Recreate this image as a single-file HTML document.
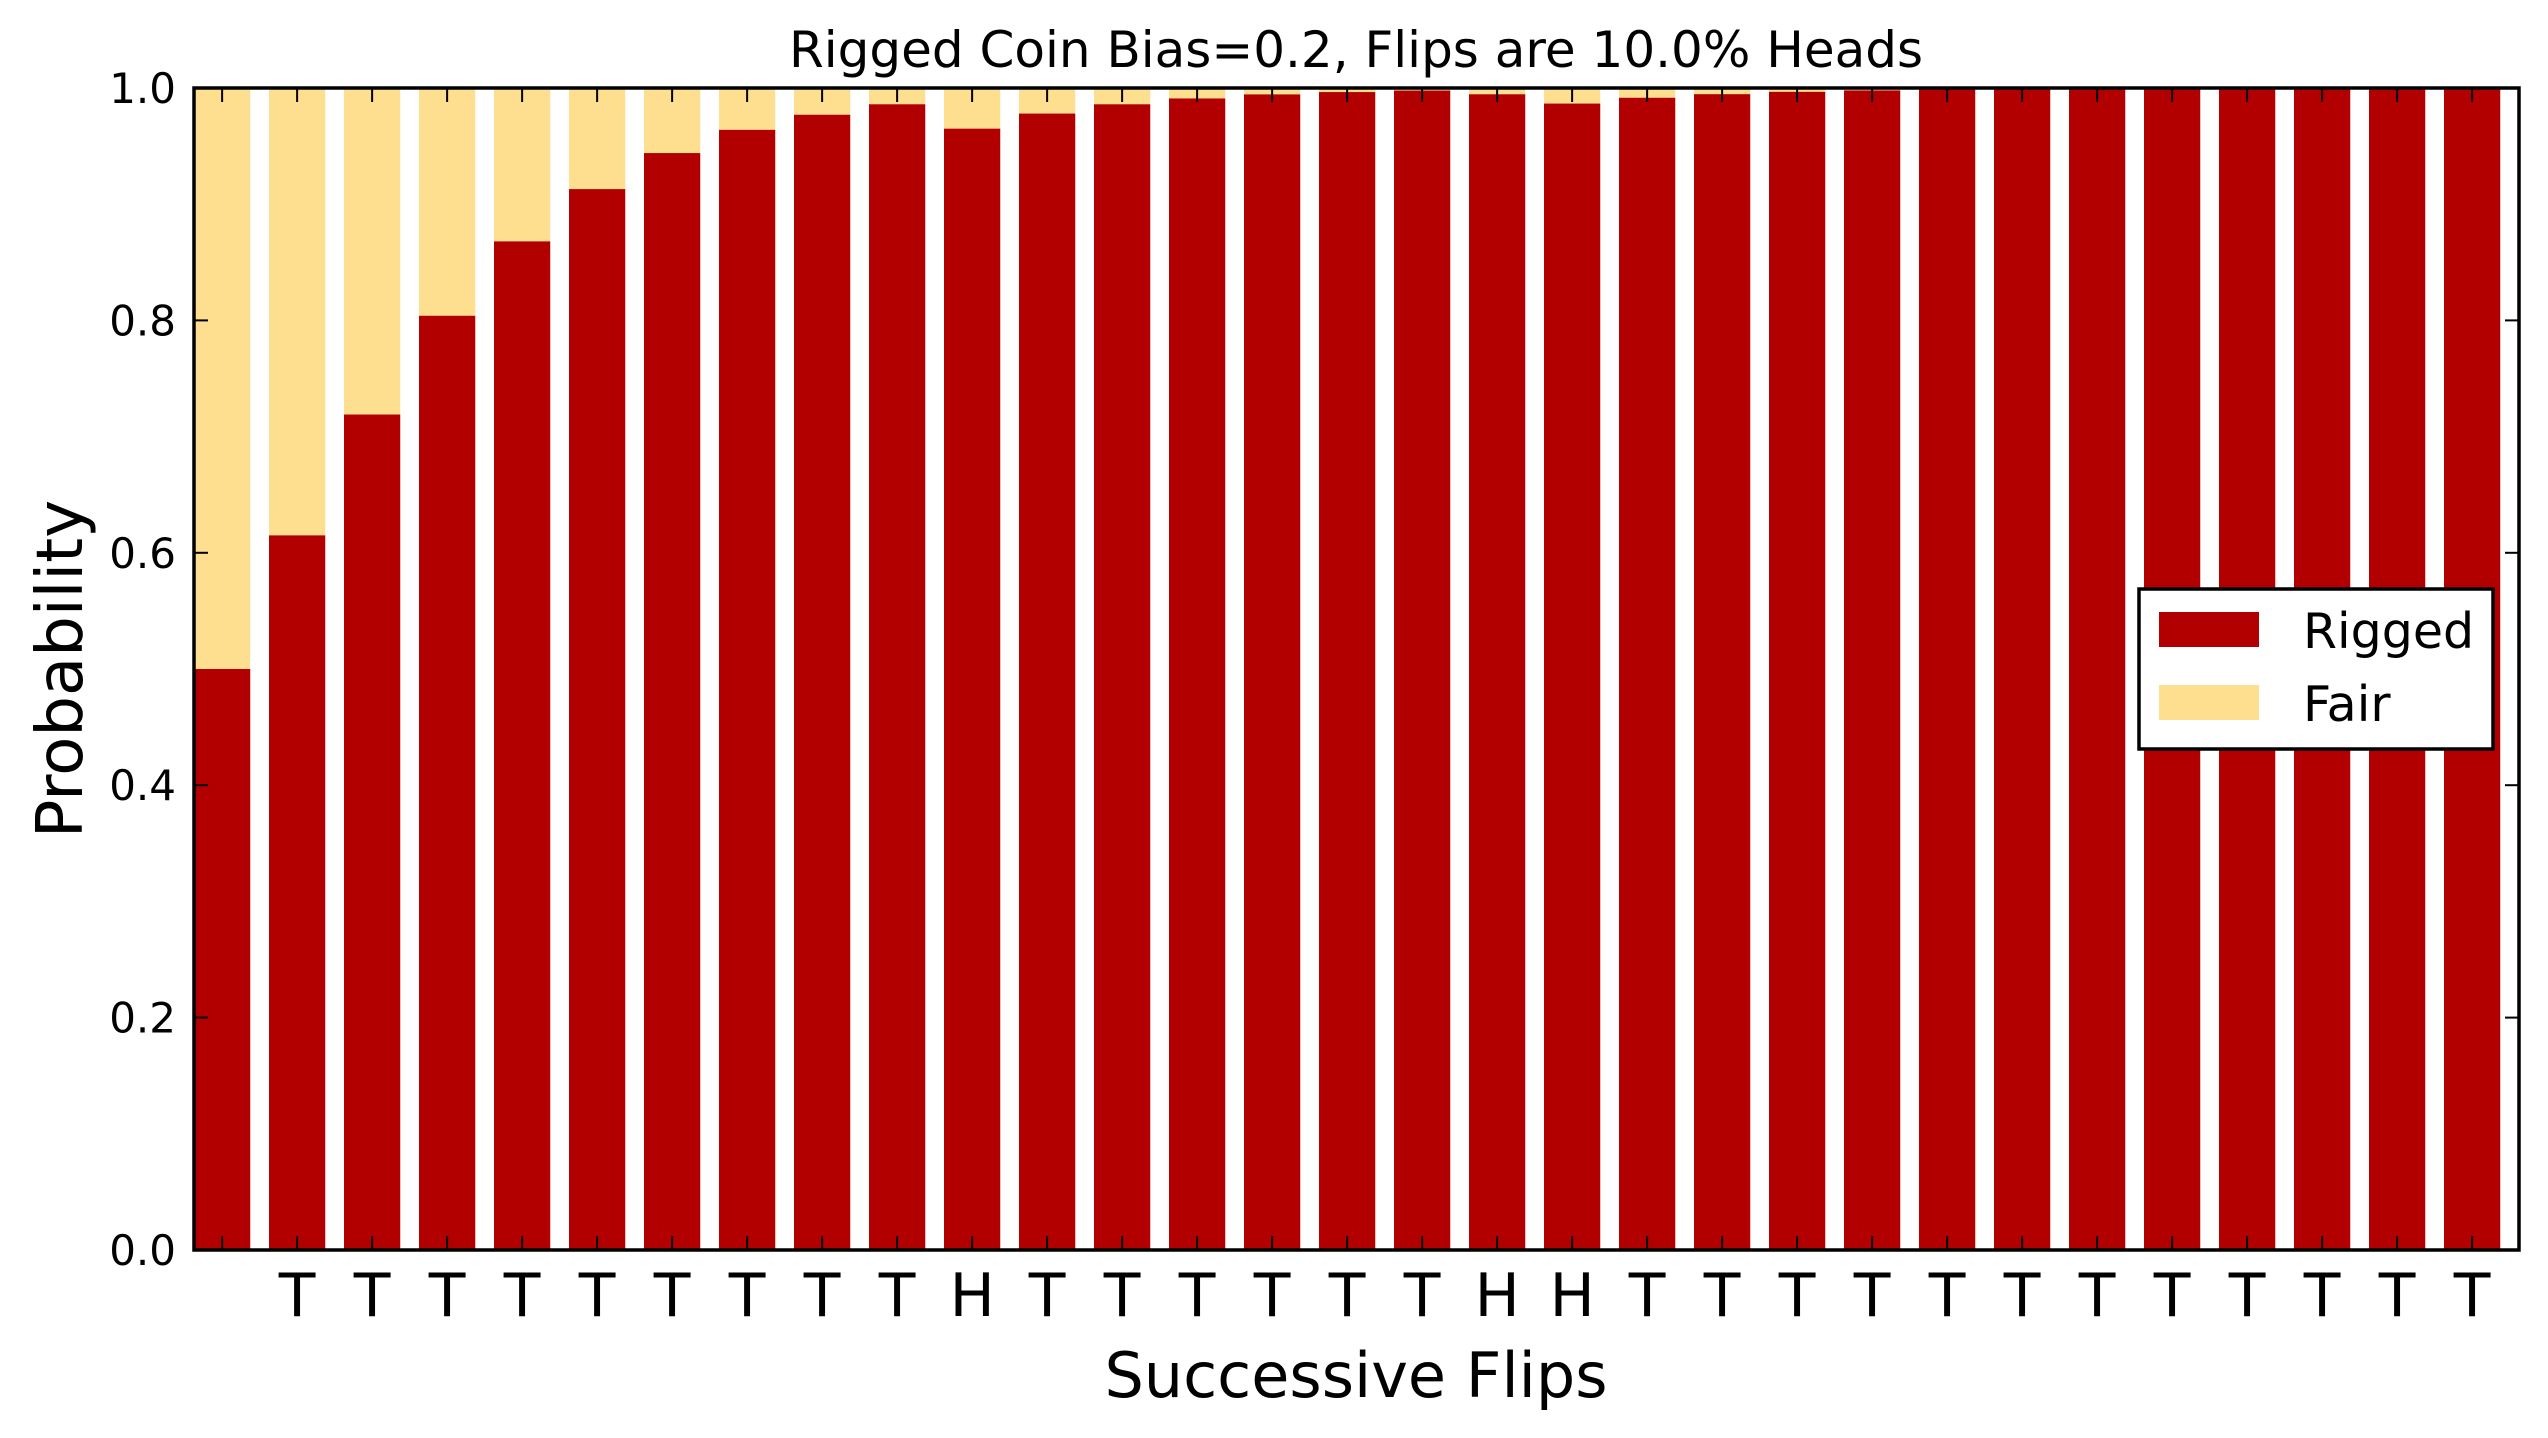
<!DOCTYPE html>
<html><head><meta charset="utf-8">
<style>
html,body{margin:0;padding:0;background:#fff;}
svg{display:block;font-family:"DejaVu Sans","Liberation Sans",sans-serif;}
</style></head>
<body>
<svg id="chart" width="2548" height="1438" viewBox="0 0 2548 1438" xmlns="http://www.w3.org/2000/svg">
<rect x="0" y="0" width="2548" height="1438" fill="#fff"/>
<g id="bars"></g>
<g id="ticks"></g>
<rect x="194" y="88" width="2325" height="1162" fill="none" stroke="#000" stroke-width="3.5"/>
<text x="1356" y="67" font-size="50" text-anchor="middle">Rigged Coin Bias=0.2, Flips are 10.0% Heads</text>
<text x="1356" y="1397" font-size="62" text-anchor="middle">Successive Flips</text>
<text x="82" y="669" font-size="64" text-anchor="middle" transform="rotate(-90 82 669)">Probability</text>
<g>
<rect x="2139" y="589" width="354" height="160" fill="#fff" stroke="#000" stroke-width="3.5"/>
<rect x="2159" y="612" width="100" height="35" fill="#b20000"/>
<text x="2303" y="648" font-size="49">Rigged</text>
<rect x="2159" y="685" width="100" height="35" fill="#fddf8f"/>
<text x="2303" y="721" font-size="49">Fair</text>
</g>
</svg>
<script>
const flips = ["", "T","T","T","T","T","T","T","T","T","H","T","T","T","T","T","T","H","H","T","T","T","T","T","T","T","T","T","T","T","T"];
const rigged = [0.5,0.615,0.719,0.804,0.868,0.913,0.944,0.964,0.977,0.986,0.965,0.978,0.986,0.991,0.9945,0.9965,0.9978,0.9946,0.9866,0.9916,0.9947,0.9967,0.9979,0.9987,0.9992,0.9995,0.9997,0.9998,0.9999,0.99993,0.99996];
const yTicks = [0.0,0.2,0.4,0.6,0.8,1.0];
const yTickLabels = ["0.0","0.2","0.4","0.6","0.8","1.0"];

const NS = "http://www.w3.org/2000/svg";
const X0 = 194, X1 = 2519, Y0 = 1250, Y1 = 88;
const n = flips.length;
function xs(v){ return X0 + (X1 - X0) * v / n; }
function ys(v){ return Y0 - (Y0 - Y1) * v; }
const barsG = document.getElementById('bars');
const ticksG = document.getElementById('ticks');
function mk(tag, attrs, parent){
  const e = document.createElementNS(NS, tag);
  for (const k in attrs) e.setAttribute(k, attrs[k]);
  parent.appendChild(e);
  return e;
}
for (let i = 0; i < n; i++) {
  const r = rigged[i];
  const bx = xs(i), bw = xs(i + 0.75) - xs(i);
  const f = mk('rect', {x: bx, y: ys(1), width: bw, height: ys(r) - ys(1), fill: '#fddf8f'}, barsG);
  
  
  const b = mk('rect', {x: bx, y: ys(r), width: bw, height: ys(0) - ys(r), fill: '#b20000'}, barsG);
  
  
  const cx = xs(i + 0.375);
  const t1 = mk('line', {x1: cx, x2: cx, y1: Y0, y2: Y0 - 14, stroke: '#000', 'stroke-width': 2}, ticksG);
  
  
  const t2 = mk('line', {x1: cx, x2: cx, y1: Y1, y2: Y1 + 14, stroke: '#000', 'stroke-width': 2}, ticksG);
  
  
  const lb = mk('text', {x: cx, y: 1316, 'font-size': 60, 'text-anchor': 'middle'}, ticksG);
  lb.textContent = flips[i];
  
  
}
for (let j = 0; j < yTicks.length; j++) {
  const y = ys(yTicks[j]);
  const a = mk('line', {x1: X0, x2: X0 + 14, y1: y, y2: y, stroke: '#000', 'stroke-width': 2}, ticksG);
  
  
  const b = mk('line', {x1: X1, x2: X1 - 14, y1: y, y2: y, stroke: '#000', 'stroke-width': 2}, ticksG);
  
  
  const t = mk('text', {x: 176, y: y + 15, 'font-size': 42, 'text-anchor': 'end'}, ticksG);
  t.textContent = yTickLabels[j];
  
  
}
</script>
</body></html>
